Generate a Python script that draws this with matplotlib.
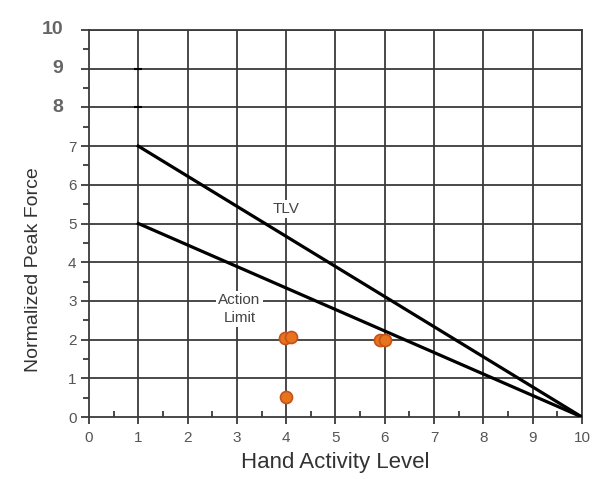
import matplotlib
matplotlib.use("Agg")
import matplotlib.pyplot as plt
import numpy as np

plt.rcParams["font.family"] = ["Liberation Sans", "DejaVu Sans"]

# Data
tlv_x = [1, 10]
tlv_y = [7, 0]
al_x = [1, 10]
al_y = [5, 0]
pts_x = [3.97, 4.1, 4.0, 5.9, 6.0]
pts_y = [2.05, 2.08, 0.52, 2.0, 2.0]
xticks = list(range(0, 11))
yticks_small = list(range(0, 8))
yticks_big = [8, 9, 10]

fig = plt.figure(figsize=(5.95, 4.79), dpi=100)
ax = fig.add_axes([0.1496, 0.1294, 0.978 - 0.1496, 0.9374 - 0.1294])
ax.set_xlim(0, 10)
ax.set_ylim(0, 10)

grid_c = "#3a3a3a"
for v in range(1, 11):
    ax.axvline(v, color=grid_c, lw=1.3, zorder=1)
    ax.axhline(v, color=grid_c, lw=1.3, zorder=1)
for s in ax.spines.values():
    s.set_color(grid_c)
    s.set_linewidth(1.3)

ax.plot(tlv_x, tlv_y, color="black", lw=2.3, zorder=3)
ax.plot(al_x, al_y, color="black", lw=2.3, zorder=3)
ax.plot([1, 1], [9, 8], ls="none", marker="_", ms=6, mew=1.5, color="black", zorder=3)

ax.scatter(pts_x, pts_y, s=75, facecolor="#E8731E", edgecolor="#C4521A", lw=1.2, zorder=5)

ax.text(4.0, 5.38, "TLV", ha="center", va="center", fontsize=11, color="#444444",
        bbox=dict(facecolor="white", edgecolor="none", pad=1.5), zorder=4)
ax.text(3.05, 2.78, "Action\nLimit", ha="center", va="center", fontsize=11, color="#444444",
        linespacing=1.35, bbox=dict(facecolor="white", edgecolor="none", pad=1.5), zorder=4)

ax.set_xticks(xticks)
ax.set_xticklabels([str(v) for v in xticks], fontsize=11, color="#555555")
ax.set_yticks(yticks_small + yticks_big)
ax.set_yticklabels([str(v) for v in yticks_small] + ["", "", ""], fontsize=11, color="#555555")
ax.set_xticks(np.arange(0.5, 10, 1), minor=True)
ax.set_yticks(np.arange(0.5, 10, 1), minor=True)
ax.tick_params(axis="x", which="major", direction="out", length=5, width=1.3, color=grid_c, pad=5)
ax.tick_params(axis="x", which="minor", direction="in", length=4, width=1.3, color=grid_c)
ax.tick_params(axis="y", which="major", direction="out", length=6, width=1.3, color=grid_c, pad=3)
ax.tick_params(axis="y", which="minor", direction="out", length=4, width=1.3, color=grid_c)

for v in yticks_big:
    ax.text(-0.52, v, str(v), ha="right", va="center", fontsize=14, fontweight="bold",
            color="#666666", transform=ax.transData, clip_on=False)

ax.set_xlabel("Hand Activity Level", fontsize=16, color="#333333", labelpad=5)
ax.set_ylabel("Normalized Peak Force", fontsize=14, color="#333333")
ax.yaxis.set_label_coords(-0.095, 0.38)

fig.savefig("out.png", dpi=100)
